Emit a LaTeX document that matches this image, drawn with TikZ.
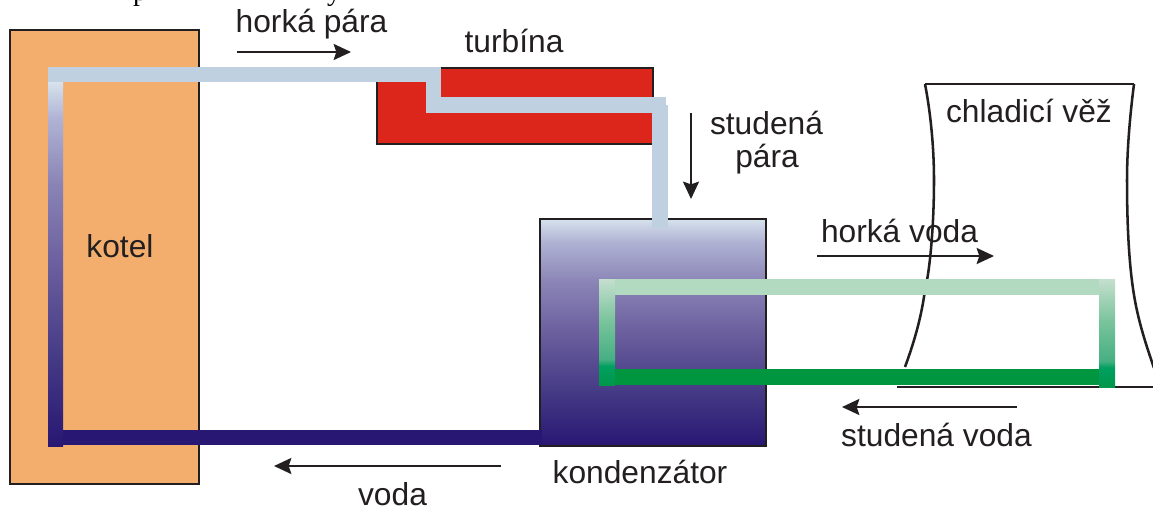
\documentclass[tikz,border=0pt]{standalone}
\usepackage{fontspec}
\setmainfont{Liberation Sans}
\newfontfamily\serifcut{Liberation Serif}
\usetikzlibrary{arrows.meta}
\definecolor{ink}{HTML}{231F20}
\definecolor{kotelc}{HTML}{F3AE6E}
\definecolor{turbc}{HTML}{DC261C}
\definecolor{steam}{HTML}{BFD1E1}
\definecolor{navy}{HTML}{281773}
\definecolor{palegreen}{HTML}{B2DAC1}
\definecolor{deepgreen}{HTML}{00953F}
\definecolor{coolA}{HTML}{453A85}
\definecolor{coolB}{HTML}{6B5F9E}
\definecolor{coolC}{HTML}{8A84B6}
\definecolor{coolD}{HTML}{B0B3D4}
\definecolor{coolE}{HTML}{D6E2EC}
\definecolor{waterA}{HTML}{00964B}
\definecolor{waterB}{HTML}{00A060}
\definecolor{waterC}{HTML}{46AF82}
\definecolor{waterD}{HTML}{78C39B}
\definecolor{waterE}{HTML}{C5DFCE}
\pgfdeclareverticalshading{coolshade}{100bp}{
  color(0bp)=(navy); color(25bp)=(navy);
  color(37bp)=(coolA);
  color(50bp)=(coolB);
  color(61bp)=(coolC);
  color(70bp)=(coolD);
  color(75bp)=(coolE); color(100bp)=(coolE)}
\pgfdeclareverticalshading{watershade}{100bp}{
  color(0bp)=(waterA); color(25bp)=(waterA);
  color(34bp)=(waterB);
  color(37bp)=(waterC);
  color(55bp)=(waterD);
  color(75bp)=(waterE); color(100bp)=(waterE)}
\tikzset{
  x=0.75pt,y=-0.75pt,
  box/.style={draw=ink,line width=2pt,inner sep=0},
  lab/.style={font=\fontsize{23.8}{26}\selectfont,text=ink,anchor=base,inner sep=0},
  cutlab/.style={font=\serifcut\fontsize{21}{24}\selectfont,anchor=base,inner sep=0},
  flow/.style={draw=ink,line width=1.8pt,-{Stealth[length=13pt,width=12pt,inset=2pt]}},
  tower/.style={draw=ink,line width=1.9pt},
}
\begin{document}
\begin{tikzpicture}
\useasboundingbox (0,0) rectangle (1153,507);
\fill[white] (0,0) rectangle (1153,507);
% boxes
\draw[box,fill=kotelc] (10,30) rectangle (199,484);
\draw[box,fill=turbc] (377,68) rectangle (653,144);
\draw[box,shading=coolshade] (540,219) rectangle (766,446);
% tower
\draw[tower] (925,84) -- (1134,84);
\draw[tower] (925,84) .. controls (931,115) and (934,150) .. (934,180)
  .. controls (934,225) and (930,270) .. (925,290)
  .. controls (921,320) and (913,345) .. (905,367);
\draw[tower] (1134,84) .. controls (1130,115) and (1127,150) .. (1127,180)
  .. controls (1127,225) and (1129,265) .. (1134,295)
  .. controls (1138,320) and (1146,345) .. (1154,368);
\draw[tower] (897,387) -- (1153,387);
% steam pipes
\fill[shading=coolshade] (48,82) rectangle (63,446);
\fill[steam] (48,67) rectangle (441,82);
\fill[steam] (426,82) rectangle (441,113);
\fill[steam] (426,97) rectangle (666,113);
\fill[steam] (652,105) rectangle (668,228);
\fill[navy] (63,430) rectangle (542,445);
% water loop
\fill[shading=watershade] (599,279) rectangle (615,385);
\fill[shading=watershade] (1099,279) rectangle (1115,387);
\fill[palegreen] (615,279) rectangle (1099,295);
\fill[deepgreen] (615,369) rectangle (1099,385);
% arrows
\coordinate (a1) at (237,52); \coordinate (a2) at (351,52);
\coordinate (b1) at (691,113); \coordinate (b2) at (691,199);
\coordinate (c1) at (817,256); \coordinate (c2) at (994,256);
\coordinate (d1) at (1017,407); \coordinate (d2) at (842,407);
\coordinate (e1) at (501,466); \coordinate (e2) at (274,466);
\draw[flow] (a1) -- (a2);
\draw[flow] (b1) -- (b2);
\draw[flow] (c1) -- (c2);
\draw[flow] (d1) -- (d2);
\draw[flow] (e1) -- (e2);
% labels
\node[lab] (t1) at (311.5,32) {horká pára};
\node[lab] (t2) at (514,52) {turbína};
\node[lab] (t3) at (120,257) {kotel};
\node[lab] (t4) at (766.5,134) {studená};
\node[lab] (t5) at (767,167) {pára};
\node[lab] (t6) at (1029,122) {chladicí věž};
\node[lab] (t7) at (899.5,242) {horká voda};
\node[lab] (t8) at (936.5,446) {studená voda};
\node[lab] (t9) at (640,483) {kondenzátor};
\node[lab] (t10) at (392.5,505) {voda};
\node[cutlab] (f1) at (140,0) {p};
\node[cutlab] (f2) at (334,0) {y};
\end{tikzpicture}
\end{document}
